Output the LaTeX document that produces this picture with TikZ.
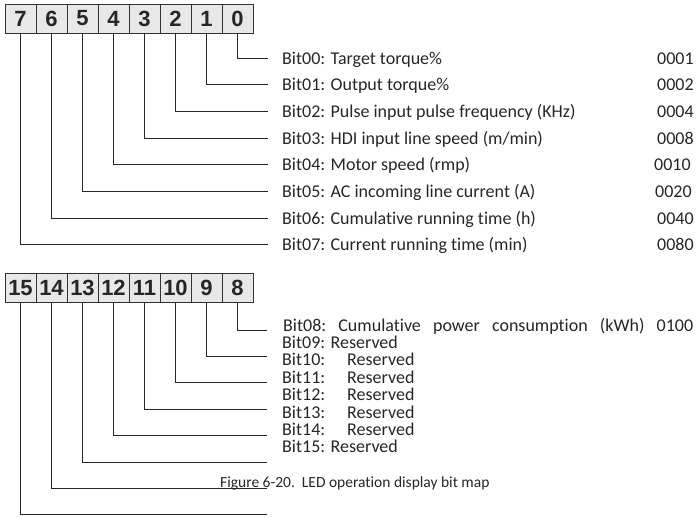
\documentclass[tikz,border=0pt]{standalone}
\usepackage{fontspec}
\setmainfont{Carlito}[Ligatures=NoCommon]
\newfontfamily\digitfont{Liberation Sans}
\begin{document}
\begin{tikzpicture}[x=1pt,y=-1pt,
  cell/.style={draw=black!80, fill=black!9, line width=0.9pt, minimum width=31pt, minimum height=29pt, inner sep=0pt,
    font=\digitfont\bfseries\fontsize{22}{22}\selectfont, text=black!85},
  lbl/.style={anchor=base west, inner sep=0pt, font=\fontsize{18}{18}\selectfont, text=black!85},
  captxt/.style={anchor=base west, inner sep=0pt, font=\fontsize{15.5}{15.5}\selectfont, text=black!85},
  wire/.style={line width=0.9pt, draw=black!85}]
\useasboundingbox (0,0) rectangle (698,517);
% top register
\foreach \b in {0,...,7} {
  \node[cell] (c\b) at ({237.5-31*\b}, 18.5) {\b};
}
% bottom register
\foreach \b in {8,...,15} {
  \node[cell] (c\b) at ({237.5-31*(\b-8)}, 288) {\b};
}
% top connectors
\foreach \b in {0,...,7} {
  \coordinate (e\b) at (268, {58+26.67*\b});
  \draw[wire] (c\b.south) |- (e\b);
}
% bottom connectors
\foreach \b in {8,...,15} {
  \coordinate (e\b) at (267, {330+26.4*(\b-8)});
  \draw[wire] (c\b.south) |- (e\b);
}
% top labels
\node[lbl] (t0) at (282, 64) {Bit00: Target torque\%};
\node[lbl] (t1) at (282, 90.67) {Bit01: Output torque\%};
\node[lbl] (t2) at (282, 117.33) {Bit02: Pulse input pulse frequency (KHz)};
\node[lbl] (t3) at (282, 144) {Bit03: HDI input line speed (m/min)};
\node[lbl] (t4) at (282, 170.67) {Bit04: Motor speed (rmp)};
\node[lbl] (t5) at (282, 197.33) {Bit05: AC incoming line current (A)};
\node[lbl] (t6) at (282, 224) {Bit06: Cumulative running time (h)};
\node[lbl] (t7) at (282, 250.67) {Bit07: Current running time (min)};
% codes
\node[lbl] (v0) at (657, 64) {0001};
\node[lbl] (v1) at (657, 90.67) {0002};
\node[lbl] (v2) at (657, 117.33) {0004};
\node[lbl] (v3) at (657, 144) {0008};
\node[lbl] (v4) at (654, 170.67) {0010};
\node[lbl] (v5) at (655, 197.33) {0020};
\node[lbl] (v6) at (657, 224) {0040};
\node[lbl] (v7) at (657, 250.67) {0080};
% bottom labels
\node[lbl] (t8) at (283, 331) {\hbox to 410pt{Bit08:\hfil Cumulative\hfil power\hfil consumption\hfil (kWh)\hfil 0100}};
\node[lbl] (t9) at (282, 348.4) {Bit09: Reserved};
\node[lbl] (t10) at (282, 365.8) {\makebox[65pt][l]{Bit10:}Reserved};
\node[lbl] (t11) at (282, 383.2) {\makebox[65pt][l]{Bit11:}Reserved};
\node[lbl] (t12) at (282, 400.6) {\makebox[65pt][l]{Bit12:}Reserved};
\node[lbl] (t13) at (282, 418) {\makebox[65pt][l]{Bit13:}Reserved};
\node[lbl] (t14) at (282, 435.4) {\makebox[65pt][l]{Bit14:}Reserved};
\node[lbl] (t15) at (282, 452.8) {Bit15: Reserved};
% caption
\node[captxt] (caption) at (220, 487) {Figure 6-20.\ \ LED operation display bit map};
\end{tikzpicture}
\end{document}
